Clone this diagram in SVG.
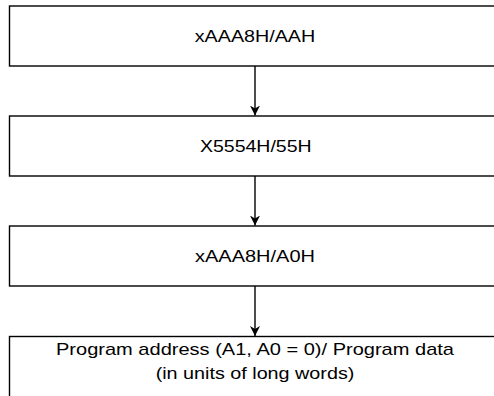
<svg xmlns="http://www.w3.org/2000/svg" width="494" height="396" viewBox="0 0 494 396">
<style>
.box{fill:#fff;stroke:#000;stroke-width:1.4}
.lbl{font-family:"Liberation Sans",Arial,sans-serif;font-size:17px;fill:#000;text-anchor:middle}
.conn{stroke:#000;stroke-width:1.4;fill:none}
</style>
<defs>
<marker id="arr" markerWidth="10" markerHeight="12" refX="10" refY="6" orient="auto" markerUnits="userSpaceOnUse">
<path d="M0,1 L10,6 L0,11 L3,6 z" fill="#000"/>
</marker>
</defs>
<g id="n1"><rect class="box" x="9.5" y="6" width="491" height="60"/><text class="lbl" x="255" y="41.7" textLength="120.5" lengthAdjust="spacingAndGlyphs">xAAA8H/AAH</text></g>
<g id="n2"><rect class="box" x="9.5" y="116" width="491" height="60"/><text class="lbl" x="255.8" y="151.7" textLength="111.7" lengthAdjust="spacingAndGlyphs">X5554H/55H</text></g>
<g id="n3"><rect class="box" x="9.5" y="226" width="491" height="60"/><text class="lbl" x="255" y="261.7" textLength="120" lengthAdjust="spacingAndGlyphs">xAAA8H/A0H</text></g>
<g id="n4"><rect class="box" x="9.5" y="336.5" width="491" height="80"/><text class="lbl" x="255" y="355.3" textLength="398" lengthAdjust="spacingAndGlyphs">Program address (A1, A0 = 0)/ Program data</text><text class="lbl" x="255" y="378.6" textLength="198.7" lengthAdjust="spacingAndGlyphs">(in units of long words)</text></g>
<g id="connectors">
<line class="conn" x1="255" y1="66" x2="255" y2="115.5" marker-end="url(#arr)"/>
<line class="conn" x1="255" y1="176" x2="255" y2="225.5" marker-end="url(#arr)"/>
<line class="conn" x1="255" y1="286" x2="255" y2="336" marker-end="url(#arr)"/>
</g>
</svg>
